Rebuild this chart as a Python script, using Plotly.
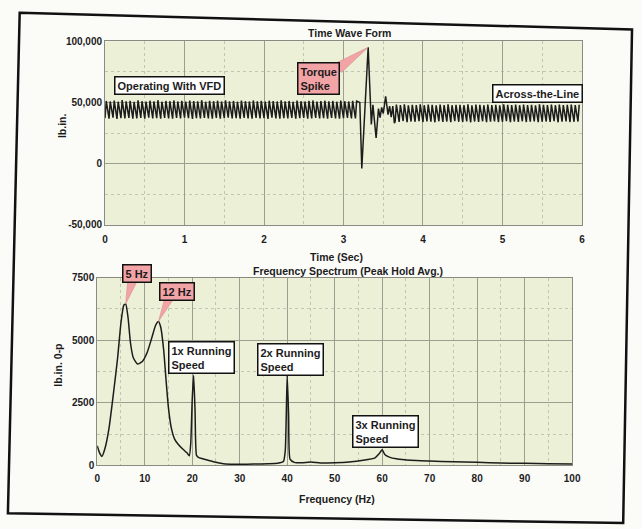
import plotly.graph_objects as go

W, H = 642, 529

# ---------------- data ----------------
time_ticks = [0, 1, 2, 3, 4, 5, 6]
time_tick_labels = ["0", "1", "2", "3", "4", "5", "6"]
torque_ticks = [-50000, 0, 50000, 100000]
torque_tick_labels = ["-50,000", "0", "50,000", "100,000"]
freq_ticks = [0, 10, 20, 30, 40, 50, 60, 70, 80, 90, 100]
freq_tick_labels = ["0", "10", "20", "30", "40", "50", "60", "70", "80", "90", "100"]
amp_ticks = [0, 2500, 5000, 7500]
amp_tick_labels = ["0", "2500", "5000", "7500"]

cycle_period = 0.05      # seconds per torque ripple cycle (~20 Hz)
vfd_start = 0.0
atl_start = 3.65

vfd_peaks = [
    51200, 50800, 51500, 50600, 51900, 50900, 51300, 50500,
    51700, 51000, 50700, 51400, 50900, 51800, 50600, 51200,
    51000, 51600, 50800, 51300, 50700, 51500, 51100, 50900,
    51800, 50600, 51300, 51000, 51400, 50800, 51700, 50900,
    51200, 50600, 51500, 51000, 50800, 51600, 50900, 51300,
    50700, 51400, 51100, 50800, 51700, 50900, 51200, 50600,
    51500, 51000, 50800, 51300, 51600, 50700, 51100, 51400,
    50900, 51200, 50600, 51500, 51000, 50800, 51300, 51100,
]
vfd_troughs = [
    37200, 36800, 37500, 36600, 37100, 36900, 37400, 36700,
    37000, 37300, 36800, 37600, 36900, 37100, 36700, 37400,
    37000, 36800, 37300, 36900, 37500, 37100, 36600, 37200,
    36900, 37400, 37000, 36700, 37300, 36800, 37100, 37500,
    36900, 37200, 36700, 37400, 37000, 36800, 37300, 36900,
    37100, 36600, 37500, 37000, 36800, 37200, 36900, 37400,
    36700, 37100, 37300, 36800, 37000, 37400, 36900, 37200,
    36800, 37300, 37000, 36700, 37100, 37400, 36900, 37000,
]
spike_t = [3.205, 3.23, 3.31, 3.35, 3.37, 3.41, 3.44, 3.46, 3.48, 3.50,
           3.53, 3.545, 3.56, 3.58, 3.60, 3.62, 3.64]
spike_v = [50000, -4000, 95000, 32000, 48000, 21000, 45000, 37500, 46000, 41000,
           55000, 47000, 40000, 47000, 38000, 47000, 33000]
atl_peaks = [
    48300, 47800, 48500, 47600, 48100, 47900, 48400, 47700,
    48200, 48000, 47600, 48300, 47900, 48500, 47700, 48100,
    48000, 47800, 48400, 47600, 48200, 48000, 47700, 48300,
    47900, 48100, 47600, 48400, 48000, 47800, 48200, 47700,
    48300, 47900, 48100, 47600, 48400, 48000, 47800, 48200,
    47700, 48300, 47900, 48000, 48200, 47800, 48100,
]
atl_troughs = [
    34600, 34100, 34800, 33900, 34400, 34200, 34700, 34000,
    34500, 34300, 33800, 34600, 34100, 34400, 33900, 34700,
    34200, 34000, 34500, 33800, 34400, 34100, 34600, 33900,
    34300, 34500, 34000, 34200, 34700, 33900, 34400, 34100,
    34600, 34000, 34300, 34500, 33900, 34200, 34400, 34100,
    34700, 33800, 34300, 34500, 34000, 34200, 34400,
]

spec_freq = [0, 0.5, 1.0, 1.6, 2.5, 3.5, 4.3, 5.0, 5.6, 6.0, 6.5, 7.0, 7.6, 8.5,
             9.5, 10.5, 11.5, 12.3, 12.9, 13.4, 14.0, 14.5, 15.0, 15.6, 16.3,
             17.0, 18.0, 18.9, 19.4, 19.7, 20.0, 20.3, 20.6, 20.9, 21.3, 22, 23,
             24, 25, 26, 27, 30, 33, 36, 38, 39.2, 39.6, 40.0, 40.3, 40.6, 41.5,
             43, 45, 47, 50, 53, 56, 58.5, 59.3, 60.0, 60.6, 61.5, 63, 66, 70,
             75, 80, 85, 90, 95, 100]
spec_amp = [780, 500, 360, 650, 1500, 3000, 4300, 5700, 6400, 6450, 5900, 4900,
            4300, 4050, 4150, 4500, 5100, 5600, 5750, 5500, 4600, 3400, 2300,
            1500, 1050, 850, 650, 500, 380, 900, 2600, 3600, 2200, 400, 320, 270,
            220, 170, 120, 80, 50, 40, 50, 60, 80, 150, 600, 3600, 2000, 250, 120,
            100, 130, 90, 100, 130, 200, 300, 450, 620, 420, 330, 260, 200, 170,
            140, 120, 90, 80, 60, 50]

# ---------------- build waveform from the per-cycle readings ----------------
wave_t, wave_v = [], []
for k, (tr, pk) in enumerate(zip(vfd_troughs, vfd_peaks)):
    t0 = vfd_start + k * cycle_period
    wave_t += [t0, t0 + 0.3 * cycle_period]
    wave_v += [tr, pk]
wave_t += spike_t
wave_v += spike_v
for k, (tr, pk) in enumerate(zip(atl_troughs, atl_peaks)):
    t0 = atl_start + k * cycle_period
    wave_t += [t0, t0 + 0.3 * cycle_period]
    wave_v += [tr, pk]

# ---------------- layout geometry (pixels) ----------------
TOP = dict(l=104, r=590, t=36, b=224)
BOT = dict(l=96, r=580, t=278, b=470)

def px(x):
    return x / W

def py(y):
    return 1 - y / H

FONT = "Liberation Sans, Arial, Helvetica, sans-serif"
INK = "#1c1c1c"
PLOT_BG = "#ecf0d6"
GRID = "#9c9e90"
MINOR = "#c2c5b0"
PINK = "#f2a3a6"

fig = go.Figure()
fig.add_trace(go.Scatter(x=wave_t, y=wave_v, mode="lines",
                         line=dict(color=INK, width=1.5), xaxis="x", yaxis="y",
                         hoverinfo="skip"))
fig.add_trace(go.Scatter(x=spec_freq, y=spec_amp, mode="lines",
                         line=dict(color=INK, width=1.5, shape="spline", smoothing=0.5),
                         xaxis="x2", yaxis="y2", hoverinfo="skip"))

tickfont = dict(family=FONT, size=10, color=INK, weight="bold")

def axis_common():
    return dict(showgrid=True, gridcolor=GRID, gridwidth=1, zeroline=False,
                showline=True, linecolor="#8a8a80", linewidth=1, mirror=True,
                tickfont=tickfont, fixedrange=True)

fig.update_layout(
    width=W, height=H, autosize=False,
    margin=dict(l=0, r=0, t=0, b=0),
    paper_bgcolor="#fbfbf8", plot_bgcolor=PLOT_BG,
    showlegend=False,
    xaxis=dict(**axis_common(), domain=[px(TOP["l"]), px(TOP["r"])], range=[0, 6],
               tickvals=time_ticks, ticktext=time_tick_labels,
               ticks="outside", ticklen=5, tickcolor="rgba(0,0,0,0)",
               minor=dict(dtick=0.5, showgrid=True, gridcolor=MINOR, griddash="dot"),
               anchor="y"),
    yaxis=dict(**axis_common(), domain=[py(TOP["b"]), py(TOP["t"])], range=[-50000, 100000],
               tickvals=torque_ticks, ticktext=torque_tick_labels, ticks="",
               minor=dict(dtick=25000, showgrid=True, gridcolor=MINOR, griddash="dot"),
               anchor="x"),
    xaxis2=dict(**axis_common(), domain=[px(BOT["l"]), px(BOT["r"])], range=[0, 100],
                tickvals=freq_ticks, ticktext=freq_tick_labels,
                ticks="outside", ticklen=4, tickcolor="rgba(0,0,0,0)",
                minor=dict(dtick=5, showgrid=True, gridcolor=MINOR, griddash="dot"),
                anchor="y2"),
    yaxis2=dict(**axis_common(), domain=[py(BOT["b"]), py(BOT["t"])], range=[0, 7500],
                tickvals=amp_ticks, ticktext=amp_tick_labels, ticks="",
                minor=dict(dtick=1250, showgrid=True, gridcolor=MINOR, griddash="dot"),
                anchor="x2"),
)

def label(text, x, y, size=10.5, angle=0):
    fig.add_annotation(text=text, x=px(x), y=py(y), xref="paper", yref="paper",
                       xanchor="center", yanchor="middle",
                       showarrow=False, textangle=angle,
                       font=dict(family=FONT, size=size, color=INK, weight="bold"))

label("Time Wave Form", 353, 28)
label("Time (Sec)", 340, 257)
label("Frequency Spectrum (Peak Hold Avg.)", 352, 271)
label("Frequency (Hz)", 340, 504)
label("lb.in.", 60, 122, angle=-90)
label("lb.in. 0-p", 56, 367, angle=-90)

def box(text, x, y, bg="white", align="left", size=11):
    fig.add_annotation(text=text, x=px(x), y=py(y), xref="paper", yref="paper",
                       xanchor="center", yanchor="middle",
                       showarrow=False, align=align, bgcolor=bg,
                       bordercolor="#111", borderwidth=1.5, borderpad=2,
                       font=dict(family=FONT, size=size, color=INK, weight="bold"))

# callout wedges (drawn before boxes so boxes sit on top)
def to_top(xp, yp):
    t = (xp - TOP["l"]) / (TOP["r"] - TOP["l"]) * 6
    v = -50000 + (TOP["b"] - yp) / (TOP["b"] - TOP["t"]) * 150000
    return t, v

def to_bot(xp, yp):
    f = (xp - BOT["l"]) / (BOT["r"] - BOT["l"]) * 100
    a = (BOT["b"] - yp) / (BOT["b"] - BOT["t"]) * 7500
    return f, a

def wedge(p1, p2, tip, xref, yref):
    path = f"M {p1[0]},{p1[1]} L {tip[0]},{tip[1]} L {p2[0]},{p2[1]} Z"
    fig.add_shape(type="path", path=path, xref=xref, yref=yref,
                  fillcolor=PINK, line=dict(color="#d98f92", width=0.6), layer="above")

i_spike = spike_v.index(max(spike_v))
wedge(to_top(340, 58), to_top(345, 68), (spike_t[i_spike], spike_v[i_spike]), "x", "y")

low = [(f, a) for f, a in zip(spec_freq, spec_amp) if f < 9]
mid = [(f, a) for f, a in zip(spec_freq, spec_amp) if 9 <= f < 16]
p5 = max(low, key=lambda p: p[1])
p12 = max(mid, key=lambda p: p[1])
wedge(to_bot(127, 281), to_bot(137, 281), p5, "x2", "y2")
wedge(to_bot(165, 298), to_bot(175, 298), p12, "x2", "y2")

box("Operating With VFD", 170, 81)
box("Torque<br>Spike", 321, 74, bg=PINK)
box("Across-the-Line", 545, 90)
box("5 Hz", 137, 274, bg=PINK)
box("12 Hz", 177, 292, bg=PINK)
box("1x Running<br>Speed", 202, 360)
box("2x Running<br>Speed", 293, 362)
box("3x Running<br>Speed", 390, 435)

# scanned page frame
frame = f"M {px(17)},{py(7)} L {px(641)},{py(24)} L {px(632)},{py(529)} L {px(5)},{py(519)} Z"
fig.add_shape(type="path", path=frame, xref="paper", yref="paper",
              line=dict(color="#111", width=2.5), fillcolor="rgba(0,0,0,0)")

fig.write_html("out.html")
